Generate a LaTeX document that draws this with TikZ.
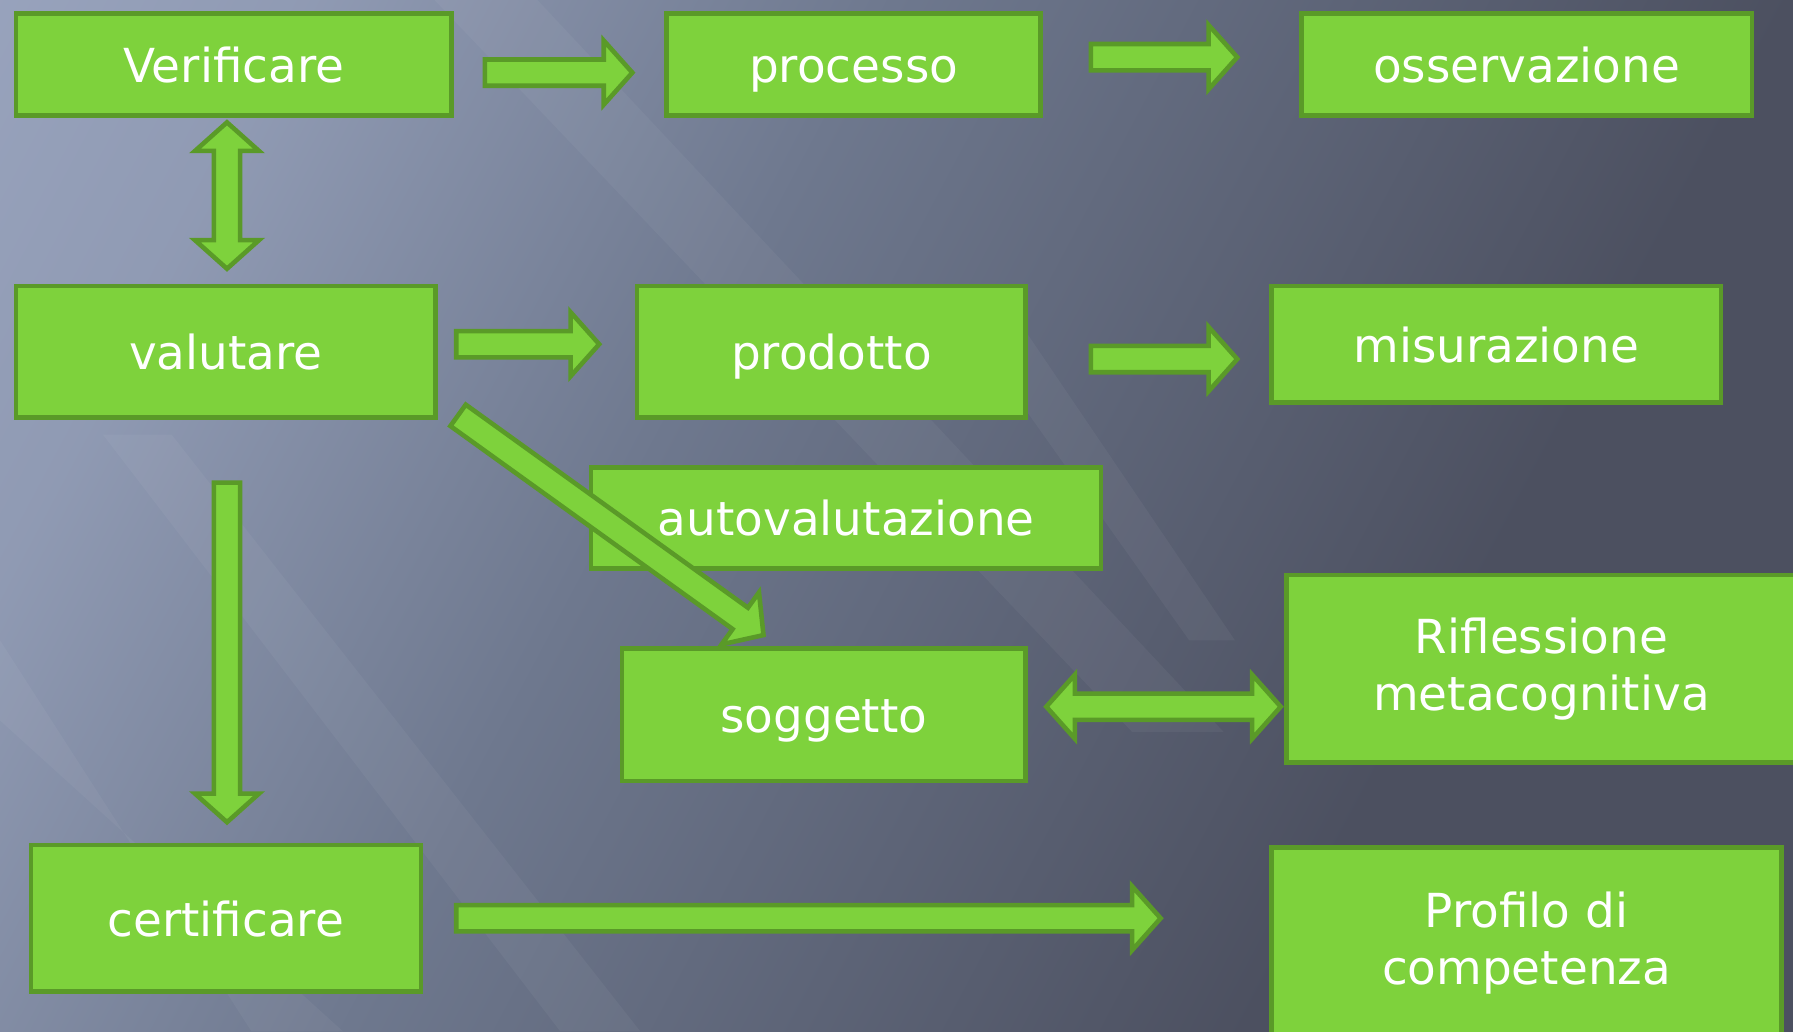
\documentclass[tikz,border=0pt]{standalone}
\usepackage{fontspec}
\setmainfont{DejaVu Sans}
\usetikzlibrary{calc}

\definecolor{boxfill}{HTML}{7ED23C}
\definecolor{boxedge}{HTML}{5A9A28}
\definecolor{bgA}{HTML}{A6B1CC}
\definecolor{bgB}{HTML}{6E788E}
\definecolor{bgC}{HTML}{4C5060}
\pgfdeclarehorizontalshading{slidebg}{100bp}{color(0bp)=(bgA); color(25bp)=(bgA!60!bgB);
  color(42bp)=(bgB); color(68bp)=(bgC); color(100bp)=(bgC)}

\tikzset{
  greenbox/.style 2 args={draw=boxedge, fill=boxfill, line width=2pt, text=white,
    font=\fontsize{20.5}{25}\selectfont, align=center, inner sep=0pt,
    minimum width=#1*0.5pt-2pt, minimum height=#2*0.5pt-2pt},
  oneline/.style={text height=15.6pt, text depth=0pt},
  boxtext/.style={text=white, font=\fontsize{20.5}{25}\selectfont, inner sep=0pt, oneline},
  blockarr/.style={draw=boxedge, fill=boxfill, line width=2pt, line join=miter},
  streak/.style={fill=white, opacity=0.045},
}

% block arrows: shaft half width, head half width, head length
\newcommand\arrshaft{5.75pt}
\newcommand\arrhead{14pt}
\newcommand\arrlen{12.5pt}
\newcommand\blockarrow[2]{%
  \draw[blockarr] let \p1=#1, \p2=#2, \n1={atan2(\y2-\y1,\x2-\x1)},
      \n2={veclen(\x2-\x1,\y2-\y1)} in [shift={(\p1)}, rotate=\n1]
    (0pt,-\arrshaft) -- ({\n2-\arrlen},-\arrshaft) -- ({\n2-\arrlen},-\arrhead)
    -- ({\n2+0pt},0pt) -- ({\n2-\arrlen},\arrhead) -- ({\n2-\arrlen},\arrshaft)
    -- (0pt,\arrshaft) -- cycle;}
\newcommand\dblarrow[2]{%
  \draw[blockarr] let \p1=#1, \p2=#2, \n1={atan2(\y2-\y1,\x2-\x1)},
      \n2={veclen(\x2-\x1,\y2-\y1)} in [shift={(\p1)}, rotate=\n1]
    (\arrlen,-\arrshaft) -- ({\n2-\arrlen},-\arrshaft) -- ({\n2-\arrlen},-\arrhead)
    -- ({\n2+0pt},0pt) -- ({\n2-\arrlen},\arrhead) -- ({\n2-\arrlen},\arrshaft)
    -- (\arrlen,\arrshaft) -- (\arrlen,\arrhead) -- (0pt,0pt)
    -- (\arrlen,-\arrhead) -- cycle;}

\begin{document}
\begin{tikzpicture}[x=0.5pt, y=-0.5pt]
  \useasboundingbox (0,0) rectangle (1568,902);
  % slide background
  \shade[shading=slidebg, shading angle=-28] (0,0) rectangle (1568,902);
  \fill[streak] (380,0) -- (470,0) -- (1070,640) -- (990,640) -- cycle;
  \fill[streak] (90,380) -- (150,380) -- (560,902) -- (490,902) -- cycle;
  \fill[streak] (0,560) -- (0,630) -- (300,902) -- (220,902) -- cycle;
  \fill[streak] (820,250) -- (870,250) -- (1080,560) -- (1040,560) -- cycle;

  % boxes
  \node[greenbox={385}{93}, oneline] (verif) at (204.5,56.5) {Verificare};
  \node[greenbox={331}{93}, oneline] (proc) at (746.5,56.5) {processo};
  \node[greenbox={398}{93}, oneline] (oss) at (1335,56.5) {osservazione};
  \node[greenbox={371}{119}, oneline] (valut) at (197.5,307.5) {valutare};
  \node[greenbox={344}{119}, oneline] (prod) at (727,307.5) {prodotto};
  \node[greenbox={397}{106}, oneline] (misur) at (1308.5,301) {misurazione};
  \node[greenbox={450}{92}] (autov) at (740,453) {};
  \node[greenbox={357}{120}, oneline] (sogg) at (720.5,625) {soggetto};
  \node[greenbox={450}{168}] (rifl) at (1348,585) {Riflessione\\metacognitiva};
  \node[greenbox={345}{132}, oneline] (cert) at (197.5,803) {certificare};
  \node[greenbox={450}{172}] (prof) at (1335,825) {Profilo di\\competenza};

  % arrows
  \blockarrow{($(verif.east)+(27,7)$)}{($(proc.west)+(-28,7)$)}
  \blockarrow{($(proc.east)+(42,-6.5)$)}{($(oss.west)+(-54,-6.5)$)}
  \blockarrow{($(valut.east)+(16,-6.5)$)}{($(prod.west)+(-31,-6.5)$)}
  \blockarrow{($(prod.east)+(55,6.5)$)}{($(misur.west)+(-28,13)$)}
  \dblarrow{($(verif.south)+(-6,4)$)}{($(valut.north)+(1,-13)$)}
  \blockarrow{($(valut.south east)+(17.6,-3.8)$)}{($(sogg.north west)+(125.7,-9.6)$)}
  \dblarrow{($(sogg.east)+(16,-7)$)}{($(rifl.west)+(-3,33)$)}
  \blockarrow{($(cert.east)+(29,0)$)}{($(prof.west)+(-95,-22)$)}
  \blockarrow{($(valut.south)+(1,55)$)}{($(cert.north)+(1,-18)$)}

  \node[boxtext] (autovtxt) at (autov.center) {autovalutazione};
\end{tikzpicture}
\end{document}
